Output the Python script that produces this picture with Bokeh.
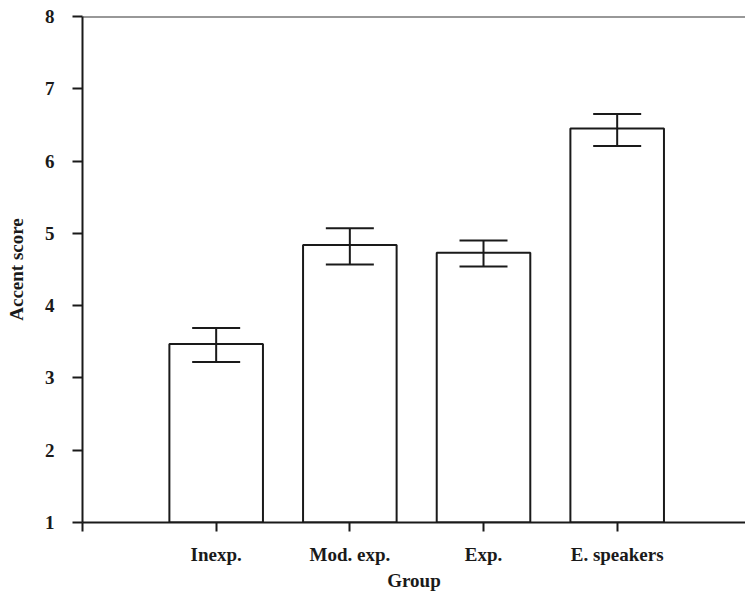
from bokeh.plotting import figure
from bokeh.models import Range1d, FixedTicker, Whisker, TeeHead, ColumnDataSource, Span
from bokeh.embed import file_html
from bokeh.resources import INLINE

# Data
groups = ["Inexp.", "Mod. exp.", "Exp.", "E. speakers"]
means = [3.47, 4.84, 4.73, 6.45]
upper = [3.69, 5.07, 4.90, 6.65]
lower = [3.22, 4.57, 4.54, 6.21]
y_ticks = [1, 2, 3, 4, 5, 6, 7, 8]

xs = list(range(1, len(groups) + 1))
src = ColumnDataSource(dict(x=xs, mean=means, upper=upper, lower=lower))

FONT = "Liberation Serif"
INK = "#1a1a1a"

p = figure(width=745, height=593, output_backend="svg", toolbar_location=None,
           x_range=Range1d(0, 4.96), y_range=Range1d(1, 8),
           min_border_left=82, min_border_right=0, min_border_top=16,
           min_border_bottom=71)

p.outline_line_color = None
p.xgrid.visible = False
p.ygrid.visible = False
p.background_fill_color = "white"

p.vbar(x="x", top="mean", bottom=1, width=0.7, source=src,
       fill_color="white", line_color=INK, line_width=2)

w = Whisker(source=src, base="x", upper="upper", lower="lower",
            line_color=INK, line_width=2, level="overlay",
            upper_head=TeeHead(size=48, line_color=INK, line_width=2),
            lower_head=TeeHead(size=48, line_color=INK, line_width=2))
p.add_layout(w)

p.add_layout(Span(location=8, dimension="width", line_color="#333", line_width=2))

# Y axis
ya = p.yaxis[0]
ya.ticker = FixedTicker(ticks=y_ticks)
ya.minor_tick_line_color = None
ya.major_tick_in = 0
ya.major_tick_out = 10
ya.axis_line_width = 2
ya.axis_line_color = INK
ya.major_tick_line_width = 2
ya.major_tick_line_color = INK
ya.major_label_standoff = 18
ya.major_label_text_font = FONT
ya.major_label_text_font_style = "bold"
ya.major_label_text_font_size = "19px"
ya.major_label_text_color = INK
ya.axis_label = "Accent score"
ya.axis_label_text_font = FONT
ya.axis_label_text_font_style = "bold"
ya.axis_label_text_font_size = "19px"
ya.axis_label_text_color = INK
ya.axis_label_standoff = 15

# X axis
xa = p.xaxis[0]
xa.ticker = FixedTicker(ticks=[0] + xs)
overrides = {0: ""}
overrides.update({x: g for x, g in zip(xs, groups)})
xa.major_label_overrides = overrides
xa.minor_tick_line_color = None
xa.major_tick_in = 0
xa.major_tick_out = 9
xa.axis_line_width = 2
xa.axis_line_color = INK
xa.major_tick_line_width = 2
xa.major_tick_line_color = INK
xa.major_label_standoff = 12
xa.major_label_text_font = FONT
xa.major_label_text_font_style = "bold"
xa.major_label_text_font_size = "19px"
xa.major_label_text_color = INK
xa.axis_label = "Group"
xa.axis_label_text_font = FONT
xa.axis_label_text_font_style = "bold"
xa.axis_label_text_font_size = "19px"
xa.axis_label_text_color = INK
xa.axis_label_standoff = 2

open("out.html", "w").write(file_html(p, INLINE))
